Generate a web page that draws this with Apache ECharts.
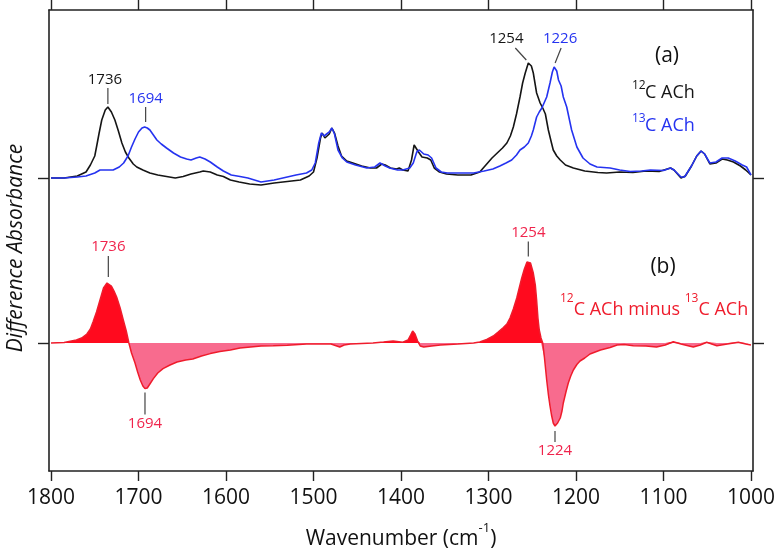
<!DOCTYPE html>
<html><head><meta charset="utf-8">
<script src="https://cdn.jsdelivr.net/npm/echarts@6/dist/echarts.min.js"></script>
<style>html,body{margin:0;padding:0;background:#fff;}#c{width:776px;height:553px;}</style>
</head><body><div id="c"></div>
<script>
// ---------- DATA ----------
const xTicks = [1800, 1700, 1600, 1500, 1400, 1300, 1200, 1100, 1000];
const offsetA = 1.65; // vertical offset of spectrum pair (a); (b) sits at 0

// (a) 12C ACh absorbance (black)
const wn12 = [1800,1785,1770,1760,1755,1750,1748,1745,1742,1738,1735,1731,1727,1723,1719,1715,1711,1706,1702,1695,1687,1678,1668,1658,1649,1640,1630,1626,1618,1610,1603,1595,1585,1573,1560,1545,1530,1515,1505,1500,1496,1492,1490,1487,1485,1482,1479,1476,1472,1468,1462,1455,1445,1435,1428,1422,1418,1412,1405,1402,1398,1392,1388,1385,1383,1380,1376,1370,1366,1362,1356,1348,1335,1320,1310,1302,1296,1290,1284,1279,1275,1271.6,1268,1264,1261,1258,1254.5,1251,1248.8,1245,1241,1238,1235,1231.6,1228,1226,1222,1218,1212,1203,1190,1175,1165,1150,1135,1120,1105,1092,1088,1080,1075,1068,1062,1057,1053,1047,1040,1033,1027,1020,1012,1006,1000];
const abs12 = [0.00,0.00,0.02,0.06,0.13,0.22,0.31,0.45,0.58,0.68,0.71,0.66,0.58,0.47,0.35,0.26,0.20,0.14,0.11,0.08,0.05,0.03,0.015,0.00,0.015,0.04,0.06,0.07,0.06,0.03,0.015,-0.02,-0.04,-0.06,-0.07,-0.05,-0.035,-0.02,0.02,0.06,0.20,0.40,0.45,0.40,0.38,0.44,0.50,0.45,0.32,0.22,0.17,0.15,0.12,0.10,0.10,0.14,0.13,0.10,0.09,0.10,0.08,0.07,0.18,0.33,0.32,0.26,0.21,0.20,0.18,0.10,0.06,0.04,0.03,0.03,0.06,0.14,0.20,0.25,0.30,0.35,0.42,0.51,0.64,0.81,0.95,1.05,1.15,1.12,1.05,0.85,0.75,0.70,0.64,0.48,0.35,0.28,0.22,0.18,0.13,0.10,0.07,0.055,0.05,0.06,0.055,0.07,0.065,0.10,0.08,0.00,0.02,0.12,0.22,0.27,0.24,0.14,0.15,0.19,0.18,0.16,0.12,0.08,0.03];

// (a) 13C ACh absorbance (blue)
const wn13 = [1800,1785,1770,1760,1750,1744,1738,1729,1722,1717,1712,1708,1704,1700,1696,1693,1690,1687,1683,1679,1674,1668,1660,1652,1645,1640,1634,1630,1624,1618,1610,1603,1594,1584,1575,1560,1545,1535,1520,1508,1502,1498,1494,1491,1488,1486,1482,1479,1476,1472,1467,1462,1452,1439,1430,1424,1418,1413,1404,1398,1390,1386,1382,1379,1374,1369,1365,1360,1354,1347,1330,1317,1305,1295,1287,1280,1273.5,1268,1264,1259,1254.5,1251,1248.8,1245,1242,1239,1236,1233.5,1229.7,1227,1225,1222,1220,1217,1214.5,1210.6,1205,1199,1192,1184,1176,1161,1150,1138,1125,1115,1100,1092,1088,1080,1076,1068,1062,1057,1053,1047,1040,1033,1026,1018,1010,1005,1000];
const abs13 = [0.00,0.00,0.01,0.02,0.05,0.08,0.08,0.08,0.11,0.15,0.22,0.31,0.39,0.46,0.50,0.51,0.50,0.48,0.43,0.38,0.34,0.30,0.25,0.21,0.19,0.18,0.20,0.21,0.19,0.16,0.11,0.07,0.03,0.015,0.00,-0.04,-0.02,0.00,0.03,0.05,0.08,0.15,0.35,0.45,0.42,0.40,0.46,0.50,0.44,0.28,0.20,0.16,0.13,0.10,0.11,0.15,0.12,0.10,0.08,0.08,0.10,0.15,0.26,0.28,0.24,0.23,0.20,0.10,0.06,0.05,0.05,0.05,0.07,0.09,0.12,0.15,0.18,0.23,0.28,0.31,0.35,0.42,0.48,0.61,0.66,0.70,0.76,0.81,0.95,1.06,1.11,1.07,0.98,0.92,0.81,0.71,0.48,0.31,0.20,0.14,0.11,0.10,0.08,0.065,0.07,0.08,0.075,0.10,0.08,0.01,0.01,0.12,0.22,0.27,0.24,0.15,0.16,0.20,0.20,0.17,0.13,0.11,0.03];

// (b) difference 12C minus 13C (red)
const wnDiff = [1800,1785,1771,1765,1759,1755,1752,1748,1744,1740,1736,1734.5,1731,1728,1725,1721,1717.4,1714,1711,1708,1704,1701,1698,1695,1692.6,1690,1687,1683,1678,1672,1664,1656,1646,1638,1628,1618,1607,1595,1584,1572,1560,1546,1530,1508,1480,1470,1465,1458,1445,1432,1420,1409,1398,1392,1389,1386.7,1384,1381,1378,1374,1365,1355,1335,1317,1310,1302,1294.5,1289,1283,1279,1275.4,1271.6,1267.7,1264,1262,1259,1256,1254.5,1252,1248.8,1246.5,1245,1243.5,1242,1240,1238,1236,1233.5,1231.5,1229.7,1228,1226,1224,1222.9,1221,1218,1216,1214.5,1211.5,1208.8,1206,1203,1199,1195.4,1190,1184,1172,1161,1153,1145,1134.5,1120,1108,1098,1088.8,1080,1066,1058,1050.6,1039,1027,1014.5,1006,1000];
const absDiff = [0.00,0.005,0.03,0.05,0.09,0.14,0.21,0.31,0.43,0.55,0.60,0.61,0.57,0.52,0.46,0.35,0.23,0.12,0.00,-0.10,-0.20,-0.29,-0.37,-0.43,-0.456,-0.45,-0.41,-0.356,-0.30,-0.256,-0.22,-0.19,-0.17,-0.16,-0.13,-0.106,-0.085,-0.07,-0.05,-0.04,-0.03,-0.027,-0.022,-0.01,-0.01,-0.04,-0.02,-0.01,-0.005,0.00,0.01,0.02,0.007,0.03,0.08,0.12,0.09,0.02,-0.03,-0.04,-0.03,-0.02,-0.01,0.00,0.01,0.035,0.07,0.11,0.155,0.19,0.25,0.34,0.45,0.58,0.65,0.74,0.81,0.826,0.80,0.70,0.58,0.43,0.25,0.13,0.05,0.00,-0.15,-0.37,-0.52,-0.63,-0.72,-0.80,-0.83,-0.82,-0.80,-0.75,-0.68,-0.60,-0.49,-0.40,-0.33,-0.27,-0.215,-0.18,-0.15,-0.11,-0.07,-0.045,-0.02,-0.015,-0.027,-0.03,-0.04,-0.02,0.013,-0.01,-0.04,-0.02,0.007,-0.027,-0.01,0.007,-0.01,-0.02];

// peak annotations: text, which curve, wavenumber of the peak
const peakText   = ['1736','1694','1254','1226','1736','1694','1254','1224'];
const peakCurve  = ['a12','a13','a12','a13','diff','diff','diff','diff'];
const peakWn     = [1735,1693,1254.5,1225,1734.5,1692.6,1254.5,1224];

// ---------- BUILD ----------
const FONT = '"Open Sans", "Noto Sans", sans-serif';
const C_BLACK = '#151515', C_BLUE = '#2533f0', C_RED = '#ef1c2c', C_POS = '#ff0a1e', C_NEG = '#f86b8e', C_LBLRED = '#f0244c';
const zip = (xs, ys, off) => xs.map((x, i) => [x, ys[i] + (off || 0)]);
const s12 = zip(wn12, abs12, offsetA);
const s13 = zip(wn13, abs13, offsetA);
const sDiff = zip(wnDiff, absDiff);
const sPos = sDiff.map(p => [p[0], Math.max(p[1], 0)]);
const sNeg = sDiff.map(p => [p[0], Math.min(p[1], 0)]);
const curves = {a12: s12, a13: s13, diff: sDiff};

const axisCol = '#222';
const xBase = {
  type: 'value', min: 997.7, max: 1802.3, inverse: true,
  splitLine: {show: false},
  axisLine: {show: true, onZero: false, lineStyle: {color: axisCol, width: 1.6}},
  axisTick: {show: true, inside: false, length: 10, customValues: xTicks, lineStyle: {color: axisCol, width: 1.4}}
};
const yBase = {
  type: 'value', min: -1.28, max: 3.33,
  splitLine: {show: false},
  axisLine: {show: true, onZero: false, lineStyle: {color: axisCol, width: 1.6}},
  axisTick: {show: true, inside: false, length: 11, customValues: [0, offsetA], lineStyle: {color: axisCol, width: 1.4}},
  axisLabel: {show: false}
};

const chart = echarts.init(document.getElementById('c'), null, {renderer: 'canvas'});
chart.setOption({
  animation: false,
  backgroundColor: '#fff',
  grid: {left: 49, right: 23, top: 10, bottom: 82, containLabel: false, outerBoundsMode: 'none'},
  xAxis: [
    Object.assign({}, xBase, {
      position: 'bottom',
      axisLabel: {show: true, customValues: xTicks, formatter: v => String(v), margin: 17, fontSize: 21, color: '#111', fontFamily: FONT},
      name: '{m|Wavenumber (cm}{s|-1}{m|)}',
      nameLocation: 'middle', nameGap: 51,
      nameTextStyle: {
        color: '#111', fontFamily: FONT,
        rich: {
          m: {fontSize: 21, fontFamily: FONT, color: '#111', lineHeight: 28, verticalAlign: 'bottom'},
          s: {fontSize: 13, fontFamily: FONT, color: '#111', lineHeight: 28, verticalAlign: 'top'}
        }
      }
    }),
    Object.assign({}, xBase, {position: 'top', axisLabel: {show: false}})
  ],
  yAxis: [
    Object.assign({}, yBase, {position: 'left'}),
    Object.assign({}, yBase, {position: 'right'})
  ],
  series: [
    {type: 'line', name: '12C ACh', data: s12, showSymbol: false, symbol: 'none', lineStyle: {color: C_BLACK, width: 1.6}, z: 3},
    {type: 'line', name: '13C ACh', data: s13, showSymbol: false, symbol: 'none', lineStyle: {color: C_BLUE, width: 1.6}, z: 4},
    {type: 'line', name: 'pos', data: sPos, showSymbol: false, symbol: 'none', lineStyle: {width: 0, opacity: 0}, areaStyle: {color: C_POS, opacity: 1, origin: 0}, z: 2},
    {type: 'line', name: 'neg', data: sNeg, showSymbol: false, symbol: 'none', lineStyle: {width: 0, opacity: 0}, areaStyle: {color: C_NEG, opacity: 1, origin: 0}, z: 2},
    {type: 'line', name: 'diff', data: sDiff, showSymbol: false, symbol: 'none', lineStyle: {color: C_RED, width: 1.5}, z: 3}
  ]
});

// ---------- ANNOTATIONS (positioned via the chart's own scales) ----------
// leader start/end and text centre, relative (px) to the peak point
const annStyle = [
  {col: C_BLACK, l: [0, -3, 0, -19], t: [-3, -27]},
  {col: C_BLUE,  l: [1, -5, 1, -20], t: [1, -28]},
  {col: C_BLACK, l: [-2, -3, -13, -15], t: [-22, -24]},
  {col: C_BLUE,  l: [1, -4, 7, -19], t: [6, -28]},
  {col: C_LBLRED, l: [0, -5, 0, -26], t: [0, -35]},
  {col: C_LBLRED, l: [0, 4, 0, 26], t: [0, 35]},
  {col: C_LBLRED, l: [0, -4, 0, -19], t: [0, -28]},
  {col: C_LBLRED, l: [0, 5, 0, 16], t: [0, 25]}
];
const graphics = [];
peakText.forEach((txt, i) => {
  const data = curves[peakCurve[i]];
  let best = data[0];
  data.forEach(p => { if (Math.abs(p[0] - peakWn[i]) < Math.abs(best[0] - peakWn[i])) best = p; });
  const [px, py] = chart.convertToPixel({gridIndex: 0}, best);
  const st = annStyle[i];
  graphics.push({type: 'line', silent: true, z: 10,
    shape: {x1: px + st.l[0], y1: py + st.l[1], x2: px + st.l[2], y2: py + st.l[3]},
    style: {stroke: '#444', lineWidth: 1.2}});
  graphics.push({type: 'text', silent: true, z: 10, x: px + st.t[0], y: py + st.t[1],
    style: {text: txt, fill: st.col, font: '15px ' + FONT, textAlign: 'center', textVerticalAlign: 'middle'}});
});

// panel labels / legend texts
const txt = (s, x, y, col, size, align, style) => ({type: 'text', silent: true, z: 10, x: x, y: y,
  style: {text: s, fill: col, font: (style || '') + ' ' + size + 'px ' + FONT, textAlign: align || 'left', textVerticalAlign: 'middle'}});
graphics.push(txt('(a)', 667, 56, '#111', 21, 'center'));
graphics.push(txt('12', 632, 86, C_BLACK, 12));
graphics.push(txt('C ACh', 645, 93, C_BLACK, 18));
graphics.push(txt('13', 632, 119, C_BLUE, 12));
graphics.push(txt('C ACh', 645, 126, C_BLUE, 18));
graphics.push(txt('(b)', 663, 267, '#111', 21, 'center'));
graphics.push({type: 'text', silent: true, z: 10, x: 560, y: 306,
  style: {text: '{s|12}{m|C ACh minus }{s|13}{m|C ACh}', textAlign: 'left', textVerticalAlign: 'middle',
    rich: {
      s: {fontSize: 12, fontFamily: FONT, fill: C_RED, lineHeight: 26, verticalAlign: 'top'},
      m: {fontSize: 18, fontFamily: FONT, fill: C_RED, lineHeight: 26, verticalAlign: 'bottom'}
    }}});
graphics.push({type: 'text', silent: true, z: 10, x: 16, y: 248, rotation: Math.PI / 2,
  style: {text: 'Difference Absorbance', fill: '#111', font: 'italic 21px ' + FONT, textAlign: 'center', textVerticalAlign: 'middle'}});
chart.setOption({graphic: graphics});
</script>
</body></html>
